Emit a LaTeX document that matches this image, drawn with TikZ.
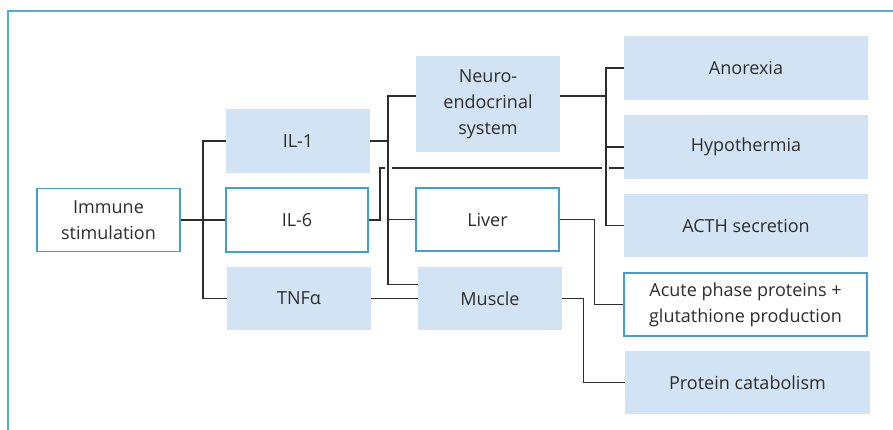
\documentclass[tikz,border=0pt]{standalone}
\usepackage{fontspec}
\setmainfont{Open Sans}
\usepackage{xcolor}
\definecolor{BoxFill}{RGB}{210,228,243}
\definecolor{BoxLine}{RGB}{62,160,214}
\definecolor{FrameCol}{RGB}{80,170,218}
\definecolor{Ink}{RGB}{45,45,45}
\usepackage{tikz}
\tikzstyle{Fill}=[rectangle,fill=BoxFill,inner sep=2pt,align=center,
text=Ink,font=\fontsize{18}{26}\selectfont]
\tikzstyle{Open}=[Fill,fill=white,draw=BoxLine,line width=1.2pt]
\tikzstyle{Link}=[draw=Ink,line width=1.3pt]
\tikzstyle{Frame}=[draw=FrameCol,line width=1.6pt]

\begin{document}
\begin{tikzpicture}[x=1pt,y=-1pt]
            \useasboundingbox(0,0)rectangle(893,430);
            \draw[Frame](8,432)--(8,11)--(895,11);
            % left column
            \node[Open,minimum width=143,minimum height=63](immune)
                at(108.5,220){Immune\\stimulation};
            \node[Fill,minimum width=144,minimum height=64](il1)
                at(298,141){IL-1};
            \node[Open,minimum width=142,minimum height=64](il6)
                at(297,220){IL-6};
            \node[Fill,minimum width=144,minimum height=63](tnf)
                at(299,298.5){TNFα};
            % middle column
            \node[Fill,minimum width=144,minimum height=96](neuro)
                at(488,104){Neuro-\\endocrinal\\system};
            \node[Open,minimum width=143,minimum height=63](liver)
                at(487.5,219.5){Liver};
            \node[Fill,minimum width=144,minimum height=63](muscle)
                at(490,298.5){Muscle};
            % right column
            \node[Fill,minimum width=244,minimum height=64](anorexia)
                at(746,68){Anorexia};
            \node[Fill,minimum width=244,minimum height=64](hypo)
                at(746,147){Hypothermia};
            \node[Fill,minimum width=244,minimum height=63](acth)
                at(746,225.5){ACTH secretion};
            \node[Open,minimum width=243,minimum height=63](acute)
                at(745.5,304.5){Acute phase proteins +\\glutathione production};
            \node[Fill,minimum width=245,minimum height=63](protein)
                at(747.5,382.5){Protein catabolism};
            % buses
            \coordinate(b1)at(203,220);
            \coordinate(b2)at(388,141);
            \coordinate(b3)at(606,96);
            \draw[Link](immune.east)--(b1);
            \draw[Link](b1)|-(il1.west);
            \draw[Link](b1)--(il6.west);
            \draw[Link](b1)|-(tnf.west);
            \draw[Link](il1.east)--(b2);
            \draw[Link](b2)|-([yshift=8pt]neuro.west);
            \draw[Link](b2)|-(liver.west);
            \draw[Link](b2)|-([yshift=14pt]muscle.west);
            \draw[Link]([yshift=8pt]neuro.east)--(b3);
            \draw[Link](b3)|-(anorexia.west);
            \draw[Link](b3)|-(hypo.west);
            \draw[Link](b3)|-(acth.west);
            % IL-6 to hypothermia, broken where it crosses the buses
            \coordinate(h0)at(380,168);
            \coordinate(h1)at(385,168);
            \coordinate(h2)at(392,168);
            \coordinate(h3)at(602,168);
            \coordinate(h4)at(609,168);
            \draw[Link](il6.east)-|(h0)--(h1);
            \draw[Link](h2)--(h3);
            \draw[Link](h4)--(hypo.west|-h4);
            \draw[Link](tnf.east)--(muscle.west);
            \draw[Link](liver.east)--++(35,0)|-(acute.west);
            \draw[Link](muscle.east)--++(21,0)|-(protein.west);
        \end{tikzpicture}
\end{document}
